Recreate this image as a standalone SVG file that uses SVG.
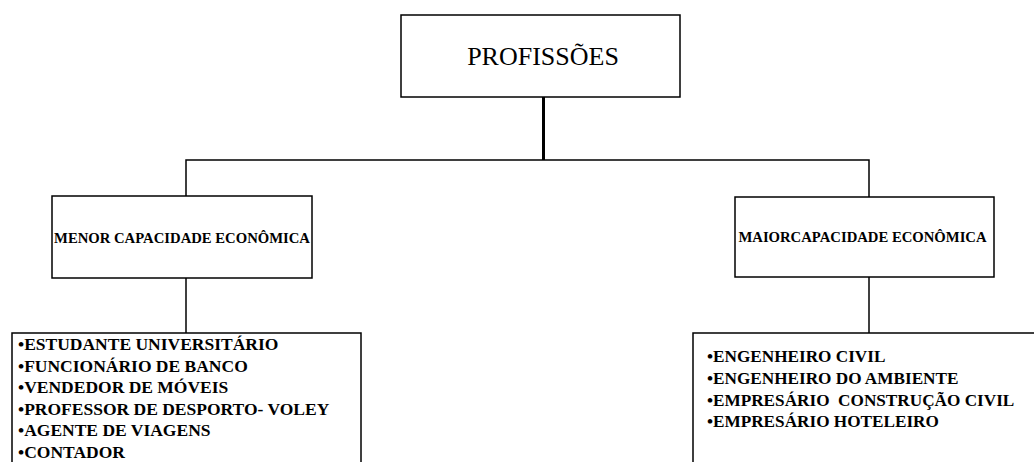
<svg xmlns="http://www.w3.org/2000/svg" width="1034" height="462" viewBox="0 0 1034 462">
<style>
.box{fill:#fff;stroke:#000;stroke-width:1.5}
.ln{fill:none;stroke:#000;stroke-width:1.5}
.t{font-family:"Liberation Serif","Times New Roman",serif;fill:#000}
.hd{font-size:14.7px;font-weight:bold}
.it{font-size:17.5px;font-weight:bold}
.it2{font-size:17.2px;font-weight:bold}
</style>
<rect width="1034" height="462" fill="#fff"/>
<g id="connectors">
<line x1="543.5" y1="97" x2="543.5" y2="160" stroke="#000" stroke-width="3"/>
<polyline class="ln" points="186,197 186,160 869,160 869,197"/>
<line class="ln" x1="186" y1="278" x2="186" y2="333"/>
<line class="ln" x1="869" y1="277" x2="869" y2="333"/>
</g>
<g id="root">
<rect class="box" x="401" y="15" width="279" height="82"/>
<text class="t" x="543" y="65" font-size="26" text-anchor="middle">PROFISSÕES</text>
</g>
<g id="menor">
<rect class="box" x="52" y="196" width="260" height="82"/>
<text class="t hd" x="182" y="243" text-anchor="middle">MENOR CAPACIDADE ECONÔMICA</text>
</g>
<g id="maior">
<rect class="box" x="735" y="197" width="259" height="80"/>
<text class="t hd" x="862.5" y="242" text-anchor="middle">MAIORCAPACIDADE ECONÔMICA</text>
</g>
<g id="lista-menor">
<rect class="box" x="12" y="333" width="349" height="140"/>
<text class="t it" x="18" y="350">•ESTUDANTE UNIVERSITÁRIO</text>
<text class="t it" x="18" y="372">•FUNCIONÁRIO DE BANCO</text>
<text class="t it" x="18" y="393">•VENDEDOR DE MÓVEIS</text>
<text class="t it" x="18" y="415">•PROFESSOR DE DESPORTO- VOLEY</text>
<text class="t it" x="18" y="436">•AGENTE DE VIAGENS</text>
<text class="t it" x="18" y="458">•CONTADOR</text>
</g>
<g id="lista-maior">
<rect class="box" x="693" y="333" width="360" height="140"/>
<text class="t it2" x="707" y="362">•ENGENHEIRO CIVIL</text>
<text class="t it2" x="707" y="384">•ENGENHEIRO DO AMBIENTE</text>
<text class="t it2" x="707" y="406" xml:space="preserve">•EMPRESÁRIO  CONSTRUÇÃO CIVIL</text>
<text class="t it2" x="707" y="427">•EMPRESÁRIO HOTELEIRO</text>
</g>
</svg>
